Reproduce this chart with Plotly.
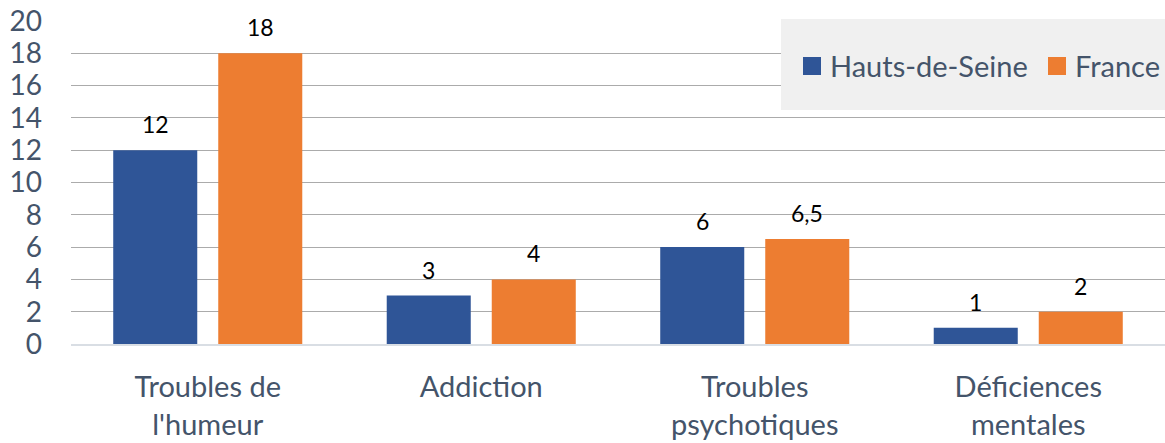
import plotly.graph_objects as go

categories = ["Troubles de<br>l'humeur", "Addiction", "Troubles<br>psychotiques", "Déficiences<br>mentales"]
hauts_de_seine = [12, 3, 6, 1]
france = [18, 4, 6.5, 2]
hauts_labels = ["12", "3", "6", "1"]
france_labels = ["18", "4", "6,5", "2"]
series_names = ["Hauts-de-Seine", "France"]
y_ticks = [0, 2, 4, 6, 8, 10, 12, 14, 16, 18, 20]

BLUE = "#2F5597"
ORANGE = "#ED7D31"
TXT = "#44546A"
FONT = "Lato"

fig = go.Figure()
fig.add_trace(go.Bar(x=categories, y=hauts_de_seine, name=series_names[0],
                     marker=dict(color=BLUE, line=dict(width=0)), showlegend=False))
fig.add_trace(go.Bar(x=categories, y=france, name=series_names[1],
                     marker=dict(color=ORANGE, line=dict(width=0)), showlegend=False))

annotations = []
for vals, labs, shift in ((hauts_de_seine, hauts_labels, -52.5), (france, france_labels, 52.5)):
    for c, v, t in zip(categories, vals, labs):
        annotations.append(dict(x=c, y=v, text=t, showarrow=False, xref="x", yref="y",
                                xshift=shift, yanchor="bottom", yshift=10,
                                font=dict(family=FONT, size=23, color="black")))

# legend (manual)
L, R, T, B = 71, 1165, 21, 344
W, H = R - L, B - T
def px(x): return (x - L) / W
def py(y): return (B - y) / H

shapes = [
    dict(type="rect", xref="paper", yref="paper", x0=px(781), x1=px(1165), y0=py(110), y1=py(19),
         fillcolor="#F0F0F0", line=dict(width=0), layer="above"),
    dict(type="rect", xref="paper", yref="paper", x0=px(803), x1=px(821), y0=py(75), y1=py(57),
         fillcolor=BLUE, line=dict(width=0), layer="above"),
    dict(type="rect", xref="paper", yref="paper", x0=px(1048), x1=px(1066), y0=py(75), y1=py(57),
         fillcolor=ORANGE, line=dict(width=0), layer="above"),
]
annotations.append(dict(x=px(828), y=py(65), xref="paper", yref="paper", text=series_names[0],
                        showarrow=False, xanchor="left", yanchor="middle",
                        font=dict(family=FONT, size=29, color=TXT)))
annotations.append(dict(x=px(1073), y=py(65), xref="paper", yref="paper", text=series_names[1],
                        showarrow=False, xanchor="left", yanchor="middle",
                        font=dict(family=FONT, size=29, color=TXT)))

fig.update_layout(
    width=1165, height=443,
    margin=dict(l=L, r=1165 - R, t=T, b=443 - B, pad=0),
    paper_bgcolor="white", plot_bgcolor="white",
    barmode="group", bargap=0.232, bargroupgap=0.2,
    font=dict(family=FONT, color=TXT, size=28),
    shapes=shapes, annotations=annotations,
)
fig.update_yaxes(range=[0, 20], tickvals=y_ticks, ticktext=[str(v) for v in y_ticks],
                 showgrid=True, gridcolor="#ABABAB", gridwidth=1,
                 zeroline=False, showline=False, ticks="",
                 ticklabelstandoff=28, tickfont=dict(family=FONT, size=28, color=TXT))
fig.update_xaxes(showgrid=False, showline=True, linecolor="#D9DEE4", linewidth=2,
                 ticks="", ticklabelstandoff=16, tickfont=dict(family=FONT, size=29, color=TXT))

fig.write_html("out.html")
